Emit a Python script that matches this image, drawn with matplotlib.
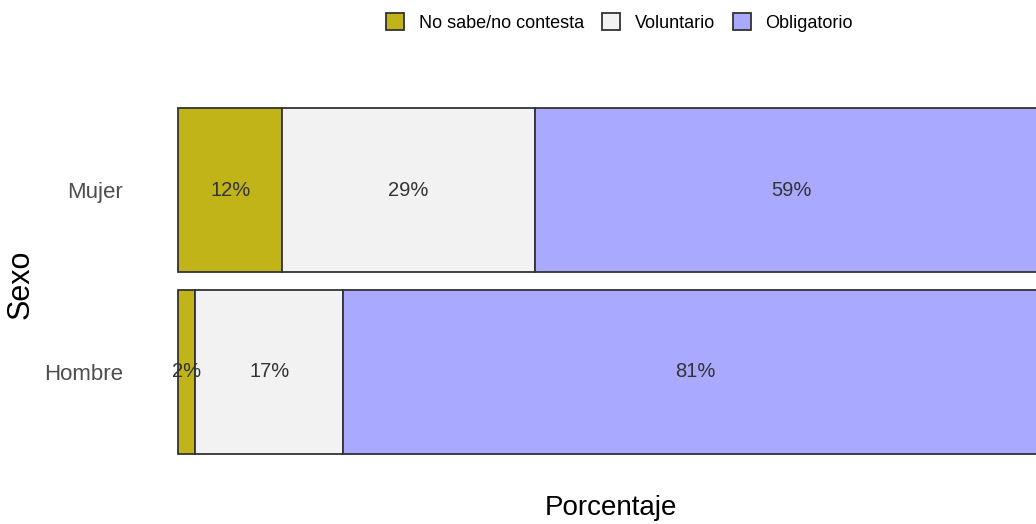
import matplotlib
matplotlib.use("Agg")
import matplotlib.pyplot as plt
from matplotlib.patches import Patch

plt.rcParams['font.family'] = ['Liberation Sans', 'DejaVu Sans']

sexos = ["Hombre", "Mujer"]
respuestas = ["No sabe/no contesta", "Voluntario", "Obligatorio"]
colores = ["#c0b419", "#f2f2f2", "#a9a9ff"]
porcentajes = {
    "No sabe/no contesta": [2, 12],
    "Voluntario": [17, 29],
    "Obligatorio": [81, 59],
}

fig = plt.figure(figsize=(10.36, 5.24), dpi=100)
ax = fig.add_axes([0.1298, 0.082, 0.9237, 0.763])

izq = [0, 0]
for resp, col in zip(respuestas, colores):
    vals = porcentajes[resp]
    ax.barh(range(len(sexos)), vals, left=izq, height=0.9, color=col,
            edgecolor="#333333", linewidth=1.3)
    for i, v in enumerate(vals):
        ax.text(izq[i] + v / 2, i, f"{v}%", ha="center", va="center",
                fontsize=14.5, color="#333333")
    izq = [a + b for a, b in zip(izq, vals)]

ax.set_xlim(-5, 105)
ax.set_ylim(-0.6, 1.6)
ax.set_yticks(range(len(sexos)))
ax.set_yticklabels(sexos, fontsize=16, color="#4d4d4d")
ax.set_xticks([])
ax.tick_params(axis="y", length=0, pad=8)
for s in ax.spines.values():
    s.set_visible(False)

fig.text(0.59, 0.03, "Porcentaje", fontsize=20, ha="center", va="center")
fig.text(0.02, 0.458, "Sexo", rotation=90, fontsize=22, ha="center", va="center")

handles = [Patch(facecolor=c, edgecolor="#333333", linewidth=1.3, label=r)
           for r, c in zip(respuestas, colores)]
fig.legend(handles=handles, loc="center", bbox_to_anchor=(0.598, 0.957), ncol=3,
           frameon=False, fontsize=13, handlelength=1.0, handleheight=1.0,
           handletextpad=0.8, columnspacing=1.0)

fig.savefig("out.png", dpi=100)
